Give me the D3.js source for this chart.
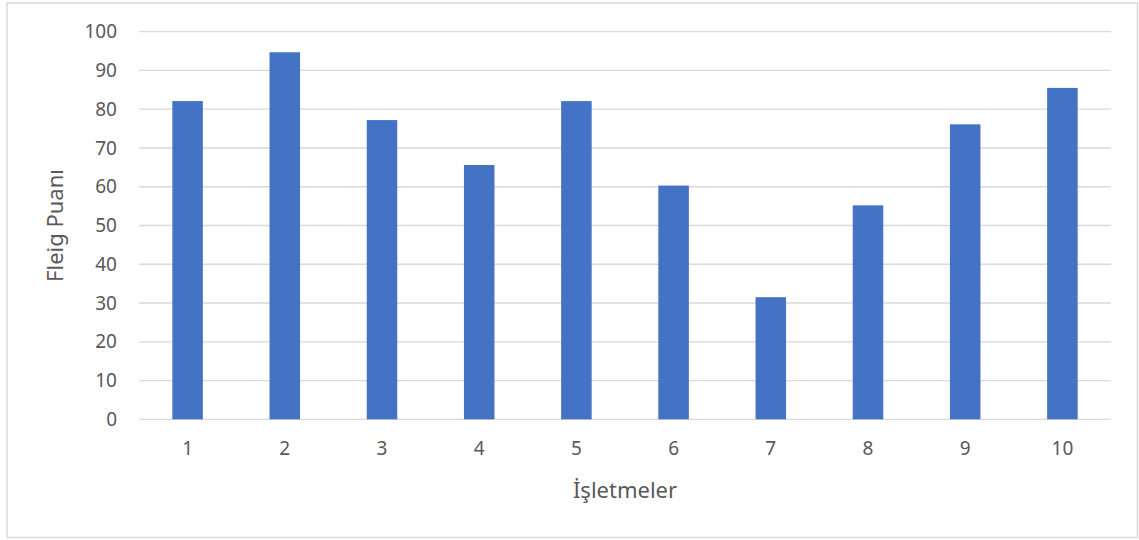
<!DOCTYPE html>
<html>
<head>
<meta charset="utf-8">
<script src="https://cdn.jsdelivr.net/npm/d3@7"></script>
<style>
  html, body { margin: 0; padding: 0; background: #fff; }
  svg { display: block; font-family: "Noto Sans", "Open Sans", sans-serif; }
</style>
</head>
<body>
<svg id="chart" width="1139" height="540"></svg>
<script>
// Fleig scores per business
const categories = ["1", "2", "3", "4", "5", "6", "7", "8", "9", "10"];
const scores = [82.1, 94.7, 77.2, 65.6, 82.1, 60.3, 31.5, 55.2, 76.1, 85.5];
const yTicks = [0, 10, 20, 30, 40, 50, 60, 70, 80, 90, 100];
const xTitle = "İşletmeler";
const yTitle = "Fleig Puanı";

const svg = d3.select("#chart");
const W = 1139, H = 540;
const plot = { left: 139, right: 1111, top: 31.7, bottom: 419.3 };

// outer chart frame
svg.append("rect")
  .attr("x", 7).attr("y", 3)
  .attr("width", W - 8.5).attr("height", H - 5.5)
  .attr("fill", "#fff").attr("stroke", "#d9d9d9").attr("stroke-width", 1.5);

const x = d3.scaleBand().domain(categories).range([plot.left, plot.right]).padding(0);
const y = d3.scaleLinear().domain([0, 100]).range([plot.bottom, plot.top]);

// gridlines
svg.append("g").selectAll("line").data(yTicks).join("line")
  .attr("x1", plot.left).attr("x2", plot.right)
  .attr("y1", d => y(d)).attr("y2", d => y(d))
  .attr("stroke", "#d9d9d9").attr("stroke-width", 1.3);

// y axis labels
const yAxis = d3.axisLeft(y).tickValues(yTicks).tickSize(0).tickPadding(0);
const gy = svg.append("g").attr("transform", `translate(${plot.left - 22},0)`).call(yAxis);
gy.select(".domain").remove();
gy.selectAll("text").attr("fill", "#595959").style("font-size", "19px")
  .style("font-family", "'Noto Sans', sans-serif");

// bars
const barW = x.bandwidth() * 0.314;
svg.append("g").selectAll("rect").data(scores).join("rect")
  .attr("x", (d, i) => x(categories[i]) + (x.bandwidth() - barW) / 2)
  .attr("y", d => y(d))
  .attr("width", barW)
  .attr("height", d => y(0) - y(d))
  .attr("fill", "#4472c4");

// x axis labels
const xAxis = d3.axisBottom(x).tickSize(0).tickPadding(0);
const gx = svg.append("g").attr("transform", `translate(0,${plot.bottom + 22})`).call(xAxis);
gx.select(".domain").remove();
gx.selectAll("text").attr("fill", "#595959").style("font-size", "19px")
  .style("font-family", "'Noto Sans', sans-serif")
  .attr("dy", "0.71em");

// axis titles
svg.append("text")
  .attr("x", (plot.left + plot.right) / 2).attr("y", 498)
  .attr("text-anchor", "middle").attr("fill", "#595959")
  .style("font-size", "22px").text(xTitle);

svg.append("text")
  .attr("transform", `translate(63,${(plot.top + plot.bottom) / 2}) rotate(-90)`)
  .attr("text-anchor", "middle").attr("fill", "#595959")
  .style("font-size", "22px").text(yTitle);
</script>
</body>
</html>
